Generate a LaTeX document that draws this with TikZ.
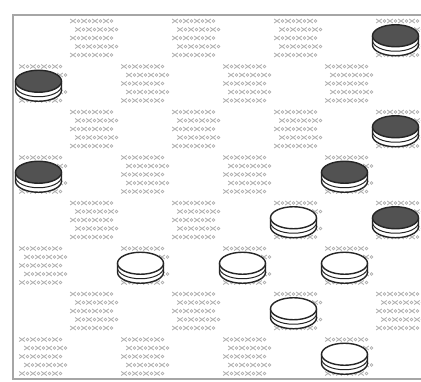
\documentclass[tikz,border=0pt]{standalone}
\begin{document}
\begin{tikzpicture}[x=1pt,y=-1pt,
  tex/.style={draw=gray!60,line width=0.9pt},
  rim/.style={draw=black!85,line width=1.4pt},
  border/.style={draw=gray!70,line width=1.6pt}]
\useasboundingbox (0,0) rectangle (421,382);
\fill[white] (0,0) rectangle (421,382);
% textured squares
\foreach \r in {0,...,7}{
  \foreach \c in {0,...,7}{
    \pgfmathtruncatemacro\d{mod(\r+\c,2)}
    \ifnum\d=1
      \pgfmathsetmacro\xo{13+51*\c}
      \pgfmathsetmacro\yo{15+45.5*\r}
      \foreach \i in {0,...,3}{
        \foreach \j in {0,...,4}{
          \pgfmathsetmacro\px{\xo+9+\i*11+mod(\j,2)*5}
          \pgfmathsetmacro\py{\yo+6+\j*8.5}
          \draw[tex] (\px-2.8,\py-2) -- (\px+2.8,\py+2) (\px-2.8,\py+2) -- (\px+2.8,\py-2);
          \draw[tex,line width=0.6pt] (\px+5.5,\py) circle[radius=1.4];
        }
      }
    \fi
  }
}
% border
\draw[border] (421,15) -- (13,15) -- (13,379) -- (421,379);
% pieces
\newcommand\ckpiece[3]{% row, col, top fill
  \pgfmathsetmacro\cx{13+51*#2+25.5}
  \pgfmathsetmacro\cy{15+45.5*#1+22.75-2}
  \path[fill=white,rim] (\cx-23,\cy) -- (\cx-23,\cy+9) arc[start angle=180,end angle=0,x radius=23,y radius=11] -- (\cx+23,\cy);
  \draw[rim,line width=1pt] (\cx-23,\cy+4.5) arc[start angle=180,end angle=0,x radius=23,y radius=11];
  \path[rim,fill=#3] (\cx,\cy) ellipse[x radius=23,y radius=11];
}
\foreach \r/\c in {0/7,1/0,2/7,3/0,3/6,4/7}{\ckpiece{\r}{\c}{black!68}}
\foreach \r/\c in {4/5,5/2,5/4,5/6,6/5,7/6}{\ckpiece{\r}{\c}{white}}
\end{tikzpicture}
\end{document}
